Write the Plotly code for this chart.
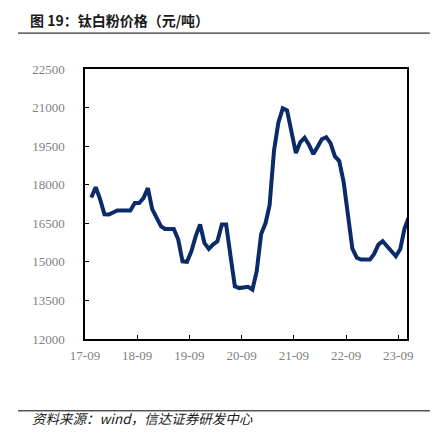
import plotly.graph_objects as go
import pandas as pd

# monthly titanium dioxide price (yuan/ton), Sep 2017 - Oct 2023
months = pd.date_range("2017-09-15", periods=74, freq="MS") + pd.Timedelta(days=14)
prices = [
    17500, 17900, 17450, 16850, 16840, 16900, 17000, 17000, 17000, 17000,
    17290, 17290, 17480, 17870, 17050, 16750, 16380, 16280, 16280, 16280,
    15870, 15020, 15000, 15410, 15990, 16450, 15740, 15500, 15680, 15800,
    16450, 16450, 15220, 14050, 13980, 13990, 14030, 13925, 14635, 16080,
    16510, 17200, 19330, 20400, 20970, 20890, 20070, 19230, 19650, 19830,
    19560, 19190, 19490, 19770, 19850, 19620, 19100, 18920, 18100, 16700,
    15510, 15160, 15090, 15090, 15090, 15300, 15670, 15800, 15610, 15400,
    15220, 15500, 16300, 16750,
]
tick_dates = ["2017-09-01", "2018-09-01", "2019-09-01", "2020-09-01",
              "2021-09-01", "2022-09-01", "2023-09-01"]
tick_text = ["17-09", "18-09", "19-09", "20-09", "21-09", "22-09", "23-09"]
y_ticks = [12000, 13500, 15000, 16500, 18000, 19500, 21000, 22500]

fig = go.Figure()
fig.add_trace(go.Scatter(
    x=months, y=prices, mode="lines",
    line=dict(color="#0b2a68", width=4),
    hoverinfo="skip",
))

tick_font = dict(family="Liberation Serif, Times New Roman, serif", size=13, color="#7f7f7f")

# page body has an 8px margin, so the figure is sized/offset to compensate
fig.update_layout(
    width=434, height=425,
    margin=dict(l=77, r=35, t=61, b=94),
    paper_bgcolor="white", plot_bgcolor="white",
    showlegend=False,
    xaxis=dict(
        range=["2017-09-01", "2023-11-01"],
        tickvals=tick_dates, ticktext=tick_text,
        ticks="inside", ticklen=4, tickcolor="black",
        showline=True, linecolor="black", linewidth=1.5, mirror=True,
        showgrid=False, zeroline=False, tickfont=tick_font,
        ticklabelstandoff=4,
    ),
    yaxis=dict(
        range=[12000, 22500], tickvals=y_ticks,
        ticktext=[str(v) for v in y_ticks],
        ticks="inside", ticklen=4, tickcolor="black",
        showline=True, linecolor="black", linewidth=1.5, mirror=True,
        showgrid=False, zeroline=False, tickfont=tick_font,
        ticklabelstandoff=16,
    ),
    font=dict(family="Noto Sans CJK SC"),
)

# header / footer rules
fig.add_shape(type="line", xref="paper", yref="paper",
              x0=-0.208, x1=1.071, y0=1.133, y1=1.133,
              line=dict(color="black", width=1))
fig.add_shape(type="line", xref="paper", yref="paper",
              x0=-0.208, x1=1.071, y0=-0.266, y1=-0.266,
              line=dict(color="black", width=1))

fig.add_annotation(
    text="<b>图 19：钛白粉价格（元/吨）</b>",
    xref="paper", yref="paper", x=-0.177, y=1.181,
    xanchor="left", yanchor="middle", showarrow=False,
    font=dict(family="Noto Sans CJK SC", size=14, color="#1a1a1a"),
)
fig.add_annotation(
    text="<i>资料来源：wind，信达证券研发中心</i>",
    xref="paper", yref="paper", x=-0.171, y=-0.292,
    xanchor="left", yanchor="middle", showarrow=False,
    font=dict(family="Noto Sans CJK SC", size=13.5, color="#1a1a1a"),
)

fig.write_html("out.html")
